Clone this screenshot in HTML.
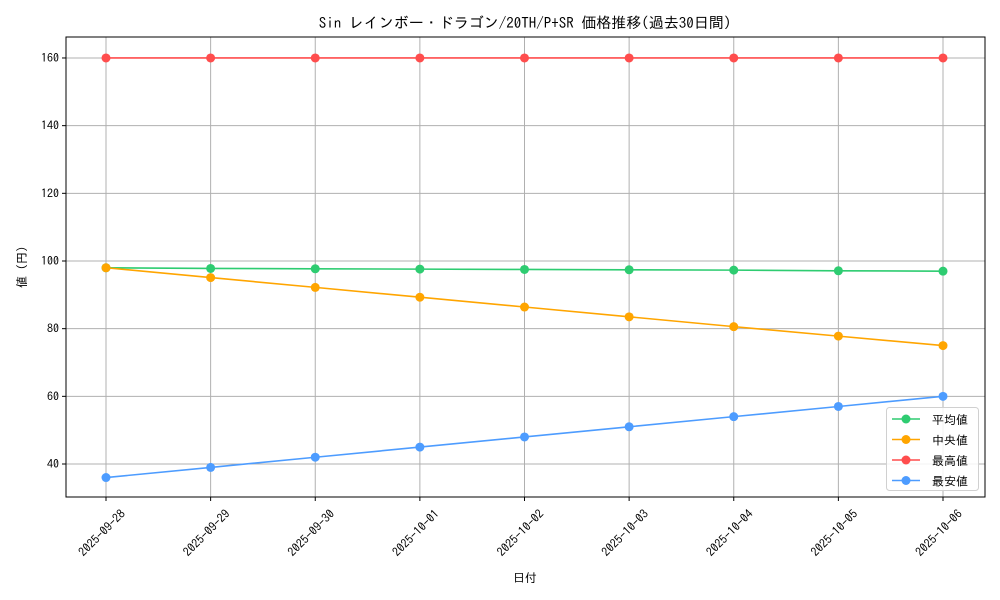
<!DOCTYPE html>
<html><head><meta charset="utf-8"><style>
body{margin:0;background:#fff}
svg{display:block;font-family:"IPAGothic","Liberation Mono","Noto Sans CJK JP",monospace}
</style></head><body>
<svg id="c" width="1000" height="600"></svg>
<script>
const dates=["2025-09-28","2025-09-29","2025-09-30","2025-10-01","2025-10-02","2025-10-03","2025-10-04","2025-10-05","2025-10-06"];
const avgVals=[98,97.8,97.7,97.6,97.5,97.4,97.3,97.1,97.0];
const medVals=[98,95.1,92.2,89.3,86.4,83.5,80.6,77.8,75];
const maxVals=[160,160,160,160,160,160,160,160,160];
const minVals=[36,39,42,45,48,51,54,57,60];
const yTicks=[40,60,80,100,120,140,160];
const seriesNames=["平均値","中央値","最高値","最安値"];
const colors=["#2ecc71","#ffa500","#ff4d4d","#4d9cff"];
const L=66,R=985,T=37,B=497,yMin=30.25,yMax=166.2;
const x=i=>106+i*(943-106)/(dates.length-1);
const y=v=>B-(v-yMin)/(yMax-yMin)*(B-T);
const s=document.getElementById('c');const NS="http://www.w3.org/2000/svg";
function mk(t,a,p){const e=document.createElementNS(NS,t);for(const k in a)e.setAttribute(k,a[k]);(p||s).appendChild(e);return e;}
let e;
e=mk('text',{x:525,y:28,'text-anchor':'middle','font-size':15});e.textContent="Sin レインボー・ドラゴン/20TH/P+SR 価格推移(過去30日間)";


dates.forEach((d,i)=>{
 e=mk('line',{x1:x(i),x2:x(i),y1:T,y2:B,stroke:'#b0b0b0','stroke-width':1});
 
 
 mk('line',{x1:x(i),x2:x(i),y1:B,y2:B+4,stroke:'#000'});
 const cx=x(i)-4,cy=B+36;
 e=mk('text',{x:cx,y:cy+4,'text-anchor':'middle','font-size':12,transform:`rotate(-45 ${cx} ${cy})`});e.textContent=d;
 
 
});
yTicks.forEach(v=>{
 e=mk('line',{x1:L,x2:R,y1:y(v),y2:y(v),stroke:'#b0b0b0','stroke-width':1});
 
 
 mk('line',{x1:L-4,x2:L,y1:y(v),y2:y(v),stroke:'#000'});
 e=mk('text',{x:L-7,y:y(v)+4,'text-anchor':'end','font-size':12});e.textContent=v;
 
 
});
e=mk('rect',{x:L,y:T,width:R-L,height:B-T,fill:'none',stroke:'#000'});


e=mk('text',{x:525,y:582,'text-anchor':'middle','font-size':12});e.textContent="日付";


e=mk('text',{x:26,y:267,'text-anchor':'middle','font-size':12,transform:'rotate(-90 26 267)'});e.textContent="値 (円)";


[avgVals,medVals,maxVals,minVals].forEach((vals,k)=>{
 const g=mk('g',{});
 
 
 mk('polyline',{points:vals.map((v,i)=>x(i)+','+y(v)).join(' '),fill:'none',stroke:colors[k],'stroke-width':1.6},g);
 vals.forEach((v,i)=>{e=mk('circle',{cx:x(i),cy:y(v),r:4.5,fill:colors[k]},g);
  
  });
});
const lg=mk('g',{});


mk('rect',{x:886.5,y:407.5,width:92,height:83,rx:3,fill:'#fff','fill-opacity':0.85,stroke:'#d0d0d0'},lg);
seriesNames.forEach((n,k)=>{
 const yy=419+k*20.5;
 e=mk('g',{},lg);
 
 
 mk('line',{x1:892,x2:920,y1:yy,y2:yy,stroke:colors[k],'stroke-width':1.6},e);
 mk('circle',{cx:906,cy:yy,r:4.5,fill:colors[k]},e);
 const t=mk('text',{x:932,y:yy+5,'font-size':12},e);t.textContent=n;
});
</script>
</body></html>
